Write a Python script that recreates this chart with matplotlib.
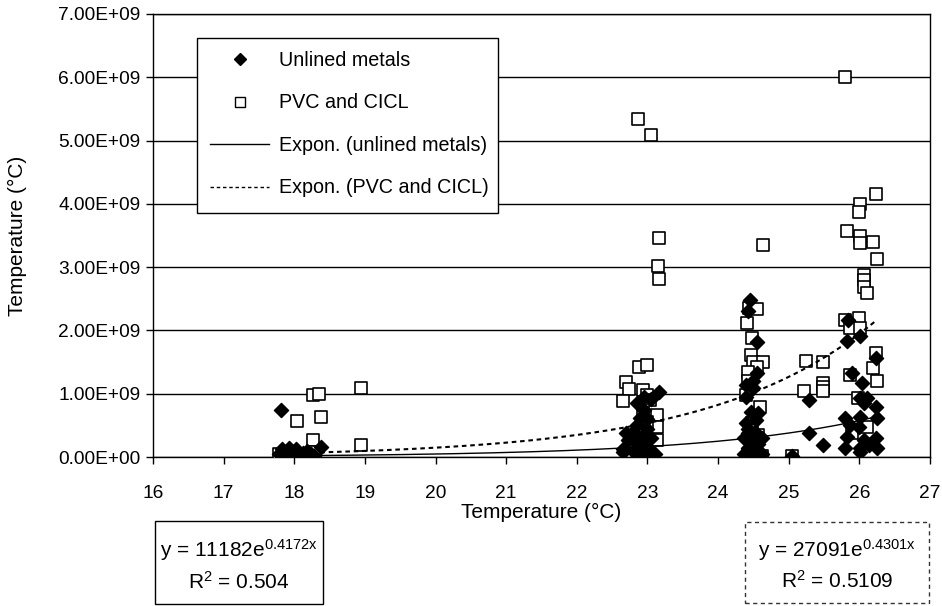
import matplotlib
matplotlib.use("Agg")
import matplotlib.pyplot as plt
import numpy as np
from matplotlib.ticker import FuncFormatter, MultipleLocator
from matplotlib.patches import Rectangle
from matplotlib.lines import Line2D

plt.rcParams['font.family'] = ['Liberation Sans', 'DejaVu Sans']
plt.rcParams['mathtext.fontset'] = 'custom'
plt.rcParams['mathtext.rm'] = 'Liberation Sans'
plt.rcParams['mathtext.it'] = 'Liberation Sans'

# Unlined metals (x = temperature, y in units of 1e9)
metal_x = [17.81, 17.78, 17.83, 17.88, 17.93, 17.98, 18.03, 18.08, 18.13, 18.18, 18.23, 18.28, 18.38, 17.98, 17.88, 18.18,
           22.65, 22.70, 22.75, 22.80, 22.85, 22.85, 22.90, 22.90, 22.95, 22.95, 22.95, 23.00, 23.00, 23.05, 23.05, 23.10, 23.16,
           22.80, 22.95, 22.90, 23.05, 22.85, 23.00, 22.66, 22.72,
           24.45, 24.42, 24.55, 24.55, 24.40, 24.50, 24.47, 24.57, 24.40, 24.42, 24.52, 24.37, 24.47, 24.42, 24.52, 24.62,
           24.37, 24.47, 24.57, 24.42, 24.50, 24.39, 24.54, 24.62,
           25.04, 25.28, 25.28, 25.49,
           25.84, 26.01, 25.83, 26.23, 25.89, 26.04, 26.01, 26.11, 26.23, 26.06, 26.25, 25.80, 26.01, 25.87, 25.99,
           25.83, 26.23, 26.06, 25.80, 26.01, 26.13, 26.25, 26.01]
metal_y = [0.74, 0.05, 0.12, 0.02, 0.14, 0.08, 0.13, 0.03, 0.06, 0.02, 0.04, 0.01, 0.16, 0.00, 0.07, 0.10,
           0.12, 0.38, 0.30, 0.10, 0.85, 0.50, 0.20, 0.62, 0.05, 0.35, 0.75, 0.15, 0.45, 0.10, 0.92, 0.05, 1.03,
           0.40, 0.95, 0.02, 0.30, 0.25, 0.60, 0.08, 0.27,
           2.48, 2.30, 1.82, 1.33, 1.14, 1.09, 0.71, 0.69, 0.54, 0.45, 0.40, 0.30, 0.25, 0.15, 0.10, 0.05,
           0.05, 0.00, 0.20, 0.38, 1.20, 0.95, 0.58, 0.30,
           0.02, 0.90, 0.38, 0.19,
           2.16, 1.91, 1.83, 1.56, 1.33, 1.17, 0.93, 0.93, 0.79, 0.85, 0.62, 0.62, 0.63, 0.50, 0.47,
           0.32, 0.30, 0.27, 0.14, 0.14, 0.19, 0.14, 0.08]

# PVC and CICL
pvc_x = [17.78, 17.88, 17.98, 18.08, 18.18, 18.27, 18.35, 18.95, 18.04, 18.38, 18.27, 18.95, 18.28,
         22.87, 23.05, 23.17, 23.15, 23.17, 22.88, 23.00, 22.70, 22.74, 22.66, 22.93, 23.00, 23.04, 23.14, 23.14, 23.14,
         22.94, 22.99, 22.84, 22.94,
         24.64, 24.44, 24.55, 24.41, 24.48, 24.47, 24.50, 24.64, 24.55, 24.43, 24.40, 24.60, 24.48, 24.57, 24.43,
         24.53, 24.62, 24.43,
         25.25, 25.49, 25.21, 25.49, 25.49, 25.49, 25.04,
         25.80, 26.23, 26.01, 26.00, 25.82, 26.01, 26.01, 26.20, 26.25, 26.07, 26.07, 26.06, 26.11,
         25.80, 26.00, 25.87, 26.01, 26.23, 26.20, 26.25, 25.87, 25.98, 26.11, 25.90]
pvc_y = [0.05, 0.03, 0.06, 0.02, 0.04, 0.98, 1.00, 1.09, 0.57, 0.63, 0.27, 0.19, 0.08,
         5.34, 5.09, 3.46, 3.02, 2.81, 1.42, 1.45, 1.18, 1.07, 0.88, 1.06, 0.98, 0.90, 0.66, 0.47, 0.27,
         0.75, 0.55, 0.30, 0.15,
         3.35, 2.35, 2.34, 2.12, 1.88, 1.61, 1.50, 1.50, 1.42, 1.34, 0.98, 0.79, 0.54, 0.35, 0.02,
         0.05, 0.02, 1.20,
         1.52, 1.50, 1.04, 1.17, 1.10, 1.05, 0.02,
         6.00, 4.15, 4.00, 3.87, 3.57, 3.50, 3.38, 3.40, 3.13, 2.88, 2.80, 2.69, 2.59,
         2.16, 2.20, 2.04, 2.04, 1.64, 1.40, 1.20, 1.30, 0.93, 0.47, 0.38]

# Trendline coefficients as printed on the chart
metal_a, metal_b, metal_r2 = 11182, 0.4172, 0.504
pvc_a, pvc_b, pvc_r2 = 27091, 0.4301, 0.5109
trend_xmin, trend_xmax = 17.78, 26.25

x_ticks = list(range(16, 28))
y_max = 7e9
labels = ['Unlined metals', 'PVC and CICL', 'Expon. (unlined metals)', 'Expon. (PVC and CICL)']

W, H = 942, 606
fig = plt.figure(figsize=(W / 100, H / 100), dpi=100)
ax = fig.add_axes([153 / W, 1 - 457 / H, 777 / W, 443 / H])

tx = np.linspace(trend_xmin, trend_xmax, 300)
ax.plot(tx, metal_a * np.exp(metal_b * tx), color='black', lw=1.0, zorder=4)
ax.plot(tx, pvc_a * np.exp(pvc_b * tx), color='black', lw=1.5, ls=(0, (2.2, 1.8)), zorder=4)

ax.scatter(np.array(pvc_x), np.array(pvc_y) * 1e9, marker='s', s=80, facecolors='white',
           edgecolors='black', linewidths=1.2, zorder=3)
ax.scatter(np.array(metal_x), np.array(metal_y) * 1e9, marker='D', s=52, color='black', zorder=3.5)

ax.set_xlim(16, 27)
ax.set_ylim(0, y_max)
ax.set_xticks(x_ticks)
ax.yaxis.set_major_locator(MultipleLocator(1e9))
ax.yaxis.set_major_formatter(FuncFormatter(lambda v, p: f"{v:.2E}"))
ax.grid(axis='y', color='black', lw=1.0)
ax.set_axisbelow(True)
for s in ax.spines.values():
    s.set_color('black')
    s.set_linewidth(1.0)
ax.tick_params(axis='both', direction='out', length=5, width=1, labelsize=13.8, color='black')
ax.tick_params(axis='x', pad=15.5)
ax.tick_params(axis='y', pad=4)

ax.set_xlabel('Temperature (°C)', fontsize=15)
ax.set_ylabel('Temperature (°C)', fontsize=15)
ax.xaxis.set_label_coords(0.5, -(503 - 457) / 443)
ax.yaxis.set_label_coords((27 - 153) / 777, 0.5)

# Legend: frame drawn separately
frame = Rectangle((197 / W, 1 - 213 / H), (498 - 197) / W, (213 - 38) / H, transform=fig.transFigure,
                  facecolor='white', edgecolor='black', lw=1.0, zorder=9)
fig.patches.append(frame)
handles = [
    Line2D([], [], marker='D', color='black', ls='none', markersize=6.5),
    Line2D([], [], marker='s', markerfacecolor='white', markeredgecolor='black', ls='none', markersize=7.5, markeredgewidth=1.0),
    Line2D([], [], color='black', lw=1.0),
    Line2D([], [], color='black', lw=1.0, ls=(0, (2.5, 2))),
]
leg = fig.legend(handles, labels, loc='upper left', bbox_to_anchor=(210 / W, 1 - 51 / H),
                 frameon=False, fontsize=14.2, handlelength=3.0,
                 labelspacing=1.19, borderpad=0, handletextpad=0.5, borderaxespad=0)
leg.set_zorder(10)

# Equation boxes
def eq_box(x0, y0, x1, y1, a, b, r2, dashed):
    rect = Rectangle((x0 / W, 1 - y1 / H), (x1 - x0) / W, (y1 - y0) / H, transform=fig.transFigure,
                     facecolor='white', edgecolor='#333333' if dashed else 'black',
                     lw=1.0, ls=(0, (3, 2.5)) if dashed else '-')
    fig.patches.append(rect)
    cx = (x0 + x1) / 2 / W
    fig.text(cx, 1 - (y0 + (y1 - y0) * 0.345) / H, f'y = {a}e$^{{{b}x}}$', ha='center', va='center', fontsize=15)
    fig.text(cx, 1 - (y0 + (y1 - y0) * 0.73) / H, f'R$^2$ = {r2}', ha='center', va='center', fontsize=15)

eq_box(155, 521, 323, 604, metal_a, metal_b, metal_r2, False)
eq_box(745, 522, 929, 603, pvc_a, pvc_b, pvc_r2, True)

fig.savefig('out.png', dpi=100)
